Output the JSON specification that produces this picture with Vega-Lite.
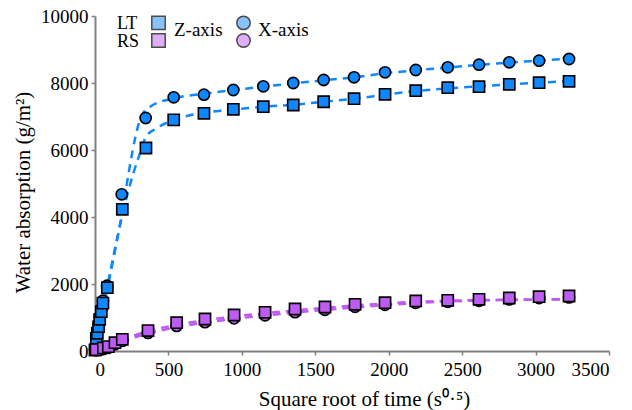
{
  "$schema": "https://vega.github.io/schema/vega-lite/v6.json",
  "autosize": "none",
  "width": 514,
  "height": 335,
  "padding": {"left": 95, "top": 16, "right": 23, "bottom": 59},
  "background": "white",
  "config": {
    "view": {"stroke": null},
    "font": "Liberation Serif",
    "axis": {
      "labelFont": "Liberation Serif",
      "titleFont": "Liberation Serif",
      "labelFontSize": 19,
      "titleFontSize": 21,
      "titleFontWeight": "normal",
      "labelColor": "black",
      "titleColor": "black",
      "domainColor": "#808080",
      "domainWidth": 2,
      "tickColor": "#808080",
      "tickWidth": 1.5,
      "tickSize": 4,
      "grid": false
    },
    "legend": {
      "labelFont": "Liberation Serif",
      "titleFont": "Liberation Serif",
      "labelFontWeight": "normal",
      "titleFontWeight": "normal"
    }
  },
  "datasets": {
    "pts": [
      {"series": "LT X", "axis": "X-axis", "x": 0, "y": 50},
      {"series": "LT X", "axis": "X-axis", "x": 9, "y": 420},
      {"series": "LT X", "axis": "X-axis", "x": 16, "y": 600},
      {"series": "LT X", "axis": "X-axis", "x": 25, "y": 800},
      {"series": "LT X", "axis": "X-axis", "x": 32, "y": 1020},
      {"series": "LT X", "axis": "X-axis", "x": 43, "y": 1250},
      {"series": "LT X", "axis": "X-axis", "x": 54, "y": 1500},
      {"series": "LT X", "axis": "X-axis", "x": 82, "y": 1950},
      {"series": "LT X", "axis": "X-axis", "x": 182, "y": 4677},
      {"series": "LT X", "axis": "X-axis", "x": 345, "y": 6955},
      {"series": "LT X", "axis": "X-axis", "x": 536, "y": 7573},
      {"series": "LT X", "axis": "X-axis", "x": 742, "y": 7651},
      {"series": "LT X", "axis": "X-axis", "x": 942, "y": 7791},
      {"series": "LT X", "axis": "X-axis", "x": 1146, "y": 7901},
      {"series": "LT X", "axis": "X-axis", "x": 1350, "y": 8000},
      {"series": "LT X", "axis": "X-axis", "x": 1557, "y": 8090},
      {"series": "LT X", "axis": "X-axis", "x": 1764, "y": 8170},
      {"series": "LT X", "axis": "X-axis", "x": 1975, "y": 8319},
      {"series": "LT X", "axis": "X-axis", "x": 2184, "y": 8388},
      {"series": "LT X", "axis": "X-axis", "x": 2402, "y": 8468},
      {"series": "LT X", "axis": "X-axis", "x": 2615, "y": 8546},
      {"series": "LT X", "axis": "X-axis", "x": 2821, "y": 8617},
      {"series": "LT X", "axis": "X-axis", "x": 3024, "y": 8665},
      {"series": "LT X", "axis": "X-axis", "x": 3228, "y": 8716},
      {"series": "RS X", "axis": "X-axis", "x": 7, "y": 20},
      {"series": "RS X", "axis": "X-axis", "x": 57, "y": 60},
      {"series": "RS X", "axis": "X-axis", "x": 91, "y": 100},
      {"series": "RS X", "axis": "X-axis", "x": 136, "y": 200},
      {"series": "RS X", "axis": "X-axis", "x": 186, "y": 300},
      {"series": "RS X", "axis": "X-axis", "x": 361, "y": 540},
      {"series": "RS X", "axis": "X-axis", "x": 556, "y": 750},
      {"series": "RS X", "axis": "X-axis", "x": 749, "y": 860},
      {"series": "RS X", "axis": "X-axis", "x": 947, "y": 975},
      {"series": "RS X", "axis": "X-axis", "x": 1158, "y": 1065},
      {"series": "RS X", "axis": "X-axis", "x": 1362, "y": 1160},
      {"series": "RS X", "axis": "X-axis", "x": 1566, "y": 1230},
      {"series": "RS X", "axis": "X-axis", "x": 1771, "y": 1320},
      {"series": "RS X", "axis": "X-axis", "x": 1975, "y": 1380},
      {"series": "RS X", "axis": "X-axis", "x": 2184, "y": 1440},
      {"series": "RS X", "axis": "X-axis", "x": 2402, "y": 1470},
      {"series": "RS X", "axis": "X-axis", "x": 2615, "y": 1500},
      {"series": "RS X", "axis": "X-axis", "x": 2821, "y": 1540},
      {"series": "RS X", "axis": "X-axis", "x": 3024, "y": 1580},
      {"series": "RS X", "axis": "X-axis", "x": 3228, "y": 1600},
      {"series": "LT Z", "axis": "Z-axis", "x": 0, "y": 30},
      {"series": "LT Z", "axis": "Z-axis", "x": 9, "y": 380},
      {"series": "LT Z", "axis": "Z-axis", "x": 16, "y": 530},
      {"series": "LT Z", "axis": "Z-axis", "x": 25, "y": 725},
      {"series": "LT Z", "axis": "Z-axis", "x": 32, "y": 946},
      {"series": "LT Z", "axis": "Z-axis", "x": 43, "y": 1175},
      {"series": "LT Z", "axis": "Z-axis", "x": 54, "y": 1430},
      {"series": "LT Z", "axis": "Z-axis", "x": 84, "y": 1890},
      {"series": "LT Z", "axis": "Z-axis", "x": 186, "y": 4230},
      {"series": "LT Z", "axis": "Z-axis", "x": 347, "y": 6060},
      {"series": "LT Z", "axis": "Z-axis", "x": 536, "y": 6900},
      {"series": "LT Z", "axis": "Z-axis", "x": 742, "y": 7095},
      {"series": "LT Z", "axis": "Z-axis", "x": 942, "y": 7215},
      {"series": "LT Z", "axis": "Z-axis", "x": 1146, "y": 7292},
      {"series": "LT Z", "axis": "Z-axis", "x": 1350, "y": 7343},
      {"series": "LT Z", "axis": "Z-axis", "x": 1557, "y": 7440},
      {"series": "LT Z", "axis": "Z-axis", "x": 1764, "y": 7531},
      {"series": "LT Z", "axis": "Z-axis", "x": 1975, "y": 7663},
      {"series": "LT Z", "axis": "Z-axis", "x": 2184, "y": 7770},
      {"series": "LT Z", "axis": "Z-axis", "x": 2402, "y": 7860},
      {"series": "LT Z", "axis": "Z-axis", "x": 2615, "y": 7890},
      {"series": "LT Z", "axis": "Z-axis", "x": 2821, "y": 7961},
      {"series": "LT Z", "axis": "Z-axis", "x": 3024, "y": 8009},
      {"series": "LT Z", "axis": "Z-axis", "x": 3228, "y": 8051},
      {"series": "RS Z", "axis": "Z-axis", "x": 7, "y": 40},
      {"series": "RS Z", "axis": "Z-axis", "x": 57, "y": 90},
      {"series": "RS Z", "axis": "Z-axis", "x": 91, "y": 130},
      {"series": "RS Z", "axis": "Z-axis", "x": 136, "y": 248},
      {"series": "RS Z", "axis": "Z-axis", "x": 186, "y": 349},
      {"series": "RS Z", "axis": "Z-axis", "x": 361, "y": 610},
      {"series": "RS Z", "axis": "Z-axis", "x": 556, "y": 845},
      {"series": "RS Z", "axis": "Z-axis", "x": 749, "y": 955},
      {"series": "RS Z", "axis": "Z-axis", "x": 947, "y": 1075},
      {"series": "RS Z", "axis": "Z-axis", "x": 1158, "y": 1155},
      {"series": "RS Z", "axis": "Z-axis", "x": 1362, "y": 1254},
      {"series": "RS Z", "axis": "Z-axis", "x": 1566, "y": 1313},
      {"series": "RS Z", "axis": "Z-axis", "x": 1771, "y": 1395},
      {"series": "RS Z", "axis": "Z-axis", "x": 1975, "y": 1442},
      {"series": "RS Z", "axis": "Z-axis", "x": 2184, "y": 1493},
      {"series": "RS Z", "axis": "Z-axis", "x": 2402, "y": 1513},
      {"series": "RS Z", "axis": "Z-axis", "x": 2615, "y": 1543},
      {"series": "RS Z", "axis": "Z-axis", "x": 2821, "y": 1582},
      {"series": "RS Z", "axis": "Z-axis", "x": 3024, "y": 1621},
      {"series": "RS Z", "axis": "Z-axis", "x": 3228, "y": 1642}
    ],
    "fits": [
      {"series": "LT X", "x": 0, "y": 0},
      {"series": "LT X", "x": 150, "y": 3300},
      {"series": "LT X", "x": 318, "y": 7030},
      {"series": "LT X", "x": 375, "y": 7290},
      {"series": "LT X", "x": 533, "y": 7540},
      {"series": "LT X", "x": 742, "y": 7680},
      {"series": "LT X", "x": 942, "y": 7790},
      {"series": "LT X", "x": 1146, "y": 7890},
      {"series": "LT X", "x": 1350, "y": 7990},
      {"series": "LT X", "x": 1557, "y": 8080},
      {"series": "LT X", "x": 1764, "y": 8170},
      {"series": "LT X", "x": 1975, "y": 8290},
      {"series": "LT X", "x": 2184, "y": 8380},
      {"series": "LT X", "x": 2402, "y": 8460},
      {"series": "LT X", "x": 2615, "y": 8540},
      {"series": "LT X", "x": 2821, "y": 8610},
      {"series": "LT X", "x": 3024, "y": 8670},
      {"series": "LT X", "x": 3260, "y": 8740},
      {"series": "LT Z", "x": 0, "y": 0},
      {"series": "LT Z", "x": 261, "y": 5300},
      {"series": "LT Z", "x": 306, "y": 5900},
      {"series": "LT Z", "x": 345, "y": 6380},
      {"series": "LT Z", "x": 420, "y": 6650},
      {"series": "LT Z", "x": 533, "y": 6890},
      {"series": "LT Z", "x": 647, "y": 7040},
      {"series": "LT Z", "x": 742, "y": 7110},
      {"series": "LT Z", "x": 942, "y": 7210},
      {"series": "LT Z", "x": 1146, "y": 7290},
      {"series": "LT Z", "x": 1350, "y": 7350},
      {"series": "LT Z", "x": 1557, "y": 7440},
      {"series": "LT Z", "x": 1764, "y": 7530},
      {"series": "LT Z", "x": 1975, "y": 7650},
      {"series": "LT Z", "x": 2184, "y": 7760},
      {"series": "LT Z", "x": 2402, "y": 7840},
      {"series": "LT Z", "x": 2615, "y": 7900},
      {"series": "LT Z", "x": 2821, "y": 7960},
      {"series": "LT Z", "x": 3024, "y": 8010},
      {"series": "LT Z", "x": 3260, "y": 8060},
      {"series": "RS Z", "x": 0, "y": 0},
      {"series": "RS Z", "x": 100, "y": 180},
      {"series": "RS Z", "x": 200, "y": 360},
      {"series": "RS Z", "x": 361, "y": 590},
      {"series": "RS Z", "x": 556, "y": 780},
      {"series": "RS Z", "x": 749, "y": 920},
      {"series": "RS Z", "x": 947, "y": 1030},
      {"series": "RS Z", "x": 1158, "y": 1130},
      {"series": "RS Z", "x": 1362, "y": 1215},
      {"series": "RS Z", "x": 1566, "y": 1290},
      {"series": "RS Z", "x": 1771, "y": 1360},
      {"series": "RS Z", "x": 1975, "y": 1420},
      {"series": "RS Z", "x": 2184, "y": 1470},
      {"series": "RS Z", "x": 2402, "y": 1500},
      {"series": "RS Z", "x": 2615, "y": 1520},
      {"series": "RS Z", "x": 2821, "y": 1530},
      {"series": "RS Z", "x": 3024, "y": 1540},
      {"series": "RS Z", "x": 3260, "y": 1545},
      {"series": "RS X", "x": 0, "y": 0},
      {"series": "RS X", "x": 100, "y": 150},
      {"series": "RS X", "x": 200, "y": 300},
      {"series": "RS X", "x": 361, "y": 520},
      {"series": "RS X", "x": 556, "y": 710},
      {"series": "RS X", "x": 749, "y": 850},
      {"series": "RS X", "x": 947, "y": 960},
      {"series": "RS X", "x": 1158, "y": 1060},
      {"series": "RS X", "x": 1362, "y": 1150},
      {"series": "RS X", "x": 1566, "y": 1230},
      {"series": "RS X", "x": 1771, "y": 1300},
      {"series": "RS X", "x": 1975, "y": 1370},
      {"series": "RS X", "x": 2184, "y": 1430},
      {"series": "RS X", "x": 2402, "y": 1480},
      {"series": "RS X", "x": 2615, "y": 1510},
      {"series": "RS X", "x": 2821, "y": 1525},
      {"series": "RS X", "x": 3024, "y": 1535},
      {"series": "RS X", "x": 3260, "y": 1540}
    ]
  },
  "layer": [
    {
      "data": {"name": "fits"},
      "mark": {"type": "line", "strokeDash": [8, 6], "strokeWidth": 2.5, "interpolate": "monotone"},
      "encoding": {
        "x": {"field": "x", "type": "quantitative"},
        "y": {"field": "y", "type": "quantitative"},
        "stroke": {
          "field": "series", "type": "nominal", "legend": null,
          "scale": {"domain": ["LT X", "LT Z", "RS X", "RS Z"], "range": ["#0F87FF", "#0F87FF", "#BE5BF2", "#BE5BF2"]}
        },
        "detail": {"field": "series"}
      }
    },
    {
      "data": {"name": "pts"},
      "mark": {"type": "point", "filled": true, "stroke": "black", "strokeWidth": 1.6, "size": 125},
      "encoding": {
        "x": {
          "field": "x", "type": "quantitative",
          "scale": {"domain": [0, 3500], "nice": false},
          "axis": {
            "title": "Square root of time (s⁰·⁵)",
            "values": [0, 500, 1000, 1500, 2000, 2500, 3000, 3500],
            "format": "d",
            "labelFont": "Liberation Serif",
            "labelBaseline": "alphabetic",
            "labelPadding": 20,
            "titleBaseline": "alphabetic",
            "titleY": 54,
            "titleX": 269
          }
        },
        "y": {
          "field": "y", "type": "quantitative",
          "scale": {"domain": [0, 10000], "nice": false},
          "axis": {
            "title": "Water absorption (g/m²)",
            "values": [0, 2000, 4000, 6000, 8000, 10000],
            "format": "d",
            "labelFont": "Liberation Serif",
            "labelPadding": 3,
            "titleBaseline": "bottom",
            "titleX": -62,
            "titleY": 176
          }
        },
        "color": {
          "field": "series", "type": "nominal",
          "scale": {"domain": ["LT Z", "RS Z", "LT X", "RS X"], "range": ["#0F87FF", "#BE5BF2", "#0F87FF", "#BE5BF2"]},
          "legend": {
            "title": ["LT", "RS"],
            "titleOrient": "left",
            "titleAnchor": "start",
            "titleBaseline": "top",
            "orient": "none",
            "legendX": 22,
            "legendY": -1,
            "columns": 2,
            "labelExpr": "''",
            "labelFontSize": 1,
            "labelOffset": 0,
            "columnPadding": 64,
            "rowPadding": -3,
            "symbolSize": 180,
            "symbolOpacity": 1,
            "symbolStrokeColor": "black",
            "symbolStrokeWidth": 1.5,
            "titleFont": "Liberation Serif",
            "titleFontSize": 18,
            "titleFontWeight": "normal",
            "titleColor": "black",
            "titleLineHeight": 18,
            "titlePadding": 11,
            "padding": 0
          }
        },
        "shape": {
          "field": "series", "type": "nominal",
          "scale": {"domain": ["LT Z", "RS Z", "LT X", "RS X"], "range": ["square", "square", "circle", "circle"]}
        },
        "opacity": {
          "field": "axis", "type": "ordinal",
          "scale": {"domain": ["Z-axis", "X-axis"], "range": [1, 1]},
          "legend": {
            "title": null,
            "orient": "none",
            "direction": "horizontal",
            "legendX": 60,
            "legendY": 4,
            "symbolSize": 0,
            "symbolOpacity": 0,
            "labelOffset": 0,
            "labelBaseline": "middle",
            "labelFont": "Liberation Serif",
            "labelFontSize": 19,
            "labelFontWeight": "normal",
            "labelColor": "black",
            "columnPadding": 16,
            "padding": 0
          }
        }
      }
    }
  ]
}
